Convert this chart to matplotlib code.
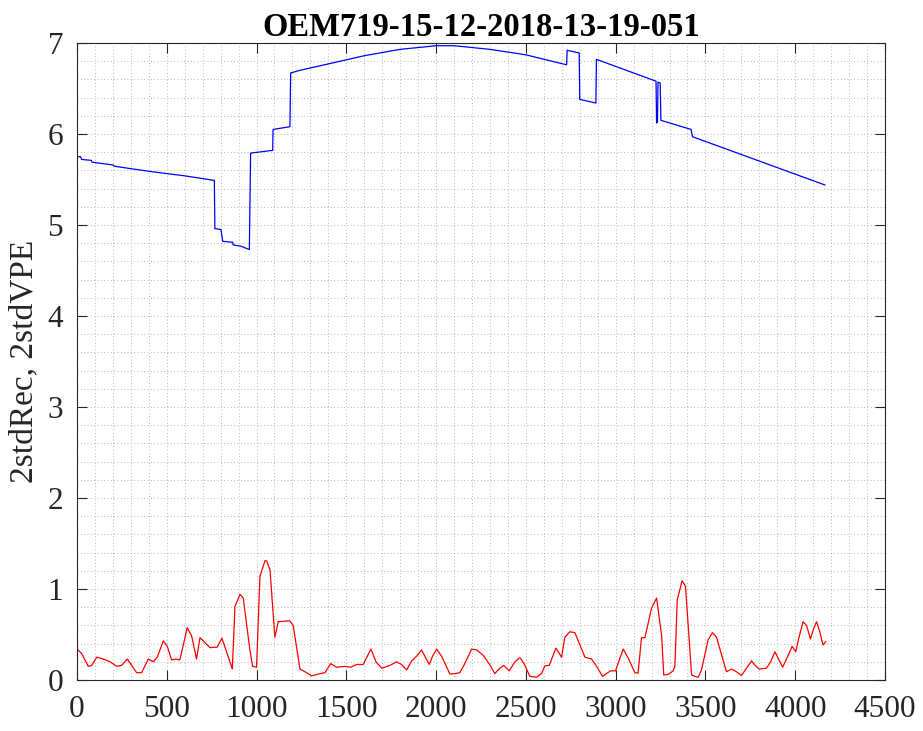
import matplotlib
matplotlib.use('Agg')
from matplotlib import pyplot as plt
from matplotlib.ticker import MultipleLocator

title = 'OEM719-15-12-2018-13-19-051'
ylabel = '2stdRec, 2stdVPE'

# 2stdRec (blue)
rec_x = [0, 20, 26, 80, 84, 200, 210, 400, 600, 765, 768, 802, 812, 867, 870,
         908, 960, 967, 1090, 1092, 1186, 1190, 1242, 1400, 1600, 1800, 2000,
         2100, 2300, 2500, 2727, 2730, 2797, 2800, 2890, 2893, 3225, 3228, 3233,
         3236, 3248, 3252, 3420, 3428, 4165]
rec_y = [5.75, 5.75, 5.72, 5.71, 5.69, 5.66, 5.645, 5.59, 5.54, 5.49, 4.96, 4.95,
         4.82, 4.81, 4.78, 4.77, 4.73, 5.79, 5.82, 6.05, 6.08, 6.67, 6.70, 6.77,
         6.86, 6.93, 6.97, 6.97, 6.93, 6.87, 6.76, 6.92, 6.89, 6.38, 6.34, 6.82,
         6.58, 6.12, 6.13, 6.57, 6.56, 6.15, 6.05, 5.97, 5.44]

# 2stdVPE (red)
vpe_x = [0, 26, 63, 82, 110, 147, 184, 221, 249, 280, 305, 332, 360, 397, 425,
         447, 481, 503, 527, 551, 573, 614, 639, 666, 685, 713, 741, 763, 781,
         807, 833, 865, 880, 908, 926, 963, 978, 1000, 1019, 1047, 1056, 1075,
         1102, 1121, 1149, 1186, 1204, 1242, 1270, 1307, 1353, 1381, 1413, 1446,
         1492, 1524, 1557, 1594, 1637, 1665, 1697, 1743, 1780, 1808, 1836, 1864,
         1891, 1919, 1938, 1962, 1980, 2003, 2031, 2077, 2105, 2132, 2160, 2198,
         2226, 2263, 2300, 2327, 2355, 2377, 2407, 2439, 2467, 2494, 2522, 2560,
         2587, 2606, 2630, 2667, 2699, 2717, 2745, 2773, 2801, 2829, 2866, 2894,
         2927, 2949, 2971, 2999, 3042, 3070, 3107, 3125, 3144, 3163, 3200, 3228,
         3256, 3268, 3292, 3320, 3330, 3343, 3370, 3389, 3423, 3441, 3460, 3478,
         3515, 3539, 3562, 3617, 3645, 3673, 3701, 3729, 3757, 3775, 3799, 3840,
         3863, 3887, 3905, 3930, 3961, 3983, 4003, 4020, 4044, 4063, 4085, 4100,
         4119, 4137, 4155, 4170]
vpe_y = [0.34, 0.29, 0.15, 0.16, 0.25, 0.23, 0.20, 0.15, 0.16, 0.23, 0.16, 0.08,
         0.08, 0.23, 0.20, 0.25, 0.43, 0.37, 0.22, 0.23, 0.22, 0.575, 0.48, 0.23,
         0.465, 0.41, 0.355, 0.36, 0.36, 0.46, 0.31, 0.12, 0.81, 0.94, 0.90, 0.33,
         0.15, 0.14, 1.14, 1.31, 1.31, 1.21, 0.47, 0.64, 0.645, 0.65, 0.60, 0.12,
         0.09, 0.045, 0.07, 0.08, 0.18, 0.14, 0.15, 0.14, 0.17, 0.17, 0.34, 0.20,
         0.13, 0.16, 0.20, 0.17, 0.11, 0.21, 0.26, 0.33, 0.26, 0.17, 0.26, 0.34,
         0.26, 0.065, 0.07, 0.08, 0.18, 0.34, 0.33, 0.27, 0.165, 0.07, 0.13, 0.16,
         0.10, 0.20, 0.245, 0.165, 0.04, 0.03, 0.07, 0.155, 0.16, 0.35, 0.25, 0.47,
         0.53, 0.52, 0.385, 0.25, 0.23, 0.15, 0.04, 0.07, 0.10, 0.10, 0.34, 0.24,
         0.08, 0.075, 0.465, 0.465, 0.79, 0.90, 0.49, 0.055, 0.06, 0.10, 0.15, 0.88,
         1.09, 1.03, 0.055, 0.04, 0.03, 0.11, 0.44, 0.52, 0.47, 0.09, 0.12, 0.09,
         0.05, 0.13, 0.21, 0.165, 0.12, 0.13, 0.20, 0.31, 0.24, 0.14, 0.27, 0.37,
         0.31, 0.46, 0.64, 0.60, 0.45, 0.55, 0.64, 0.53, 0.385, 0.42]

x_ticks = [0, 500, 1000, 1500, 2000, 2500, 3000, 3500, 4000, 4500]
y_ticks = [0, 1, 2, 3, 4, 5, 6, 7]

plt.rcParams['font.family'] = ['Liberation Serif', 'DejaVu Serif']
axis_grey = '#262626'

fig = plt.figure(figsize=(9.23, 7.31), dpi=100)
ax = fig.add_axes([0.0834, 0.0698, 0.8754, 0.8714])

ax.plot(rec_x, rec_y, color='#0000ff', linewidth=0.9)
ax.plot(vpe_x, vpe_y, color='#ff0000', linewidth=0.9)

ax.set_xlim(0, 4500)
ax.set_ylim(0, 7)
ax.set_xticks(x_ticks)
ax.set_yticks(y_ticks)
ax.xaxis.set_minor_locator(MultipleLocator(100))
ax.yaxis.set_minor_locator(MultipleLocator(0.2))

ax.grid(which='both', linestyle=(0, (1, 3)), color='#a0a0a0', linewidth=0.6)
ax.tick_params(which='major', direction='in', length=7, width=0.8,
               top=True, right=True, labelsize=22.5, colors=axis_grey)
ax.tick_params(axis='x', which='major', pad=11)
ax.tick_params(axis='y', which='major', pad=10)
ax.tick_params(which='minor', length=0)
for s in ax.spines.values():
    s.set_color(axis_grey)
    s.set_linewidth(0.8)

ax.set_title(title, fontsize=23.5, fontweight='bold', pad=5)
ax.set_ylabel(ylabel, fontsize=24, color=axis_grey, labelpad=6)

fig.savefig('out.png', dpi=100)
